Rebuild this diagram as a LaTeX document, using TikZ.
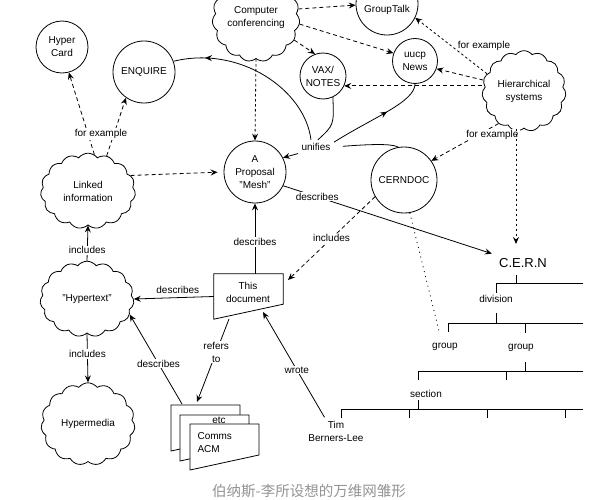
\documentclass[tikz,border=0pt]{standalone}
\usepackage{fontspec}
\setmainfont{Liberation Sans}
\newfontfamily\cjk{Noto Sans CJK SC}
\usetikzlibrary{shapes.symbols,arrows.meta,decorations.markings,calc}
\tikzset{
  lw/.style={line width=0.8pt},
  circ/.style={circle, draw, lw, inner sep=0pt, align=center},
  cloudn/.style={cloud, draw, cloud puffs=15, cloud puff arc=105, lw, inner sep=0pt, align=center},
  tip/.tip={Stealth[length=7pt,width=6pt,inset=2.5pt]},
  arr/.style={lw, -tip},
  darr/.style={arr, dash pattern=on 4pt off 3pt},
  sdarr/.style={arr, dash pattern=on 2.5pt off 2.5pt},
  dotline/.style={lw, dash pattern=on 1pt off 4pt},
  lab/.style={fill=white, inner sep=1pt, align=center},
  marr/.style={lw, postaction={decorate}, decoration={markings, mark=at position #1 with {\arrow{tip}}}},
  tree/.style={lw},
}
\begin{document}
\begin{tikzpicture}[x=1pt,y=-1pt, every node/.style={font=\fontsize{10}{13}\selectfont}]
\useasboundingbox (0,0) rectangle (600,500);
\fill[white] (0,0) rectangle (600,500);
\clip (0,0) rectangle (600,500);

% nodes
\node[circ, minimum size=52pt] (hcard) at (62,47) {Hyper\\Card};
\node[circ, minimum size=62pt] (enq) at (144,72) {ENQUIRE};
\node[cloudn, minimum width=80pt, minimum height=44pt] (cc) at (256,18) {Computer\\conferencing};
\node[circ, minimum size=62pt] (gt) at (387,4) {IBM\\GroupTalk};
\node[circ, minimum size=46pt] (vax) at (323,76) {VAX/\\NOTES};
\node[circ, minimum size=45pt] (uucp) at (415,61) {uucp\\News};
\node[cloudn, minimum width=84pt, minimum height=60pt] (hier) at (524,91) {Hierarchical\\systems};
\node[circ, minimum size=62pt] (mesh) at (255,172) {A\\Proposal\\"Mesh"};
\node[circ, minimum size=66pt] (cdoc) at (404,180) {CERNDOC};
\node[cloudn, minimum width=95pt, minimum height=66pt] (linked) at (88,191) {Linked\\information};
\node[cloudn, minimum width=94pt, minimum height=72pt] (htext) at (87,299) {"Hypertext"};
\node[cloudn, minimum width=94pt, minimum height=72pt] (hmedia) at (88,424) {Hypermedia};
\node[font=\fontsize{13}{15}\selectfont] (cern) at (523,263) {C.E.R.N};
\node[align=center] (tim) at (336,431) {Tim\\Berners-Lee};
\node (unif) at (316,147) {unifies};

% this document
\node[minimum width=69pt, minimum height=45pt, inner sep=0pt] (doc) at (248.5,296.5) {};
\draw[lw, fill=white] (doc.north west) -- (doc.north east) -- ($(doc.south east)+(0,-15)$) -- (doc.south west) -- cycle;
\node[align=center] (doctxt) at (248,292) {This\\document};

% stack of papers
\draw[lw, fill=white] (171,405) -- (240,405) -- (240,436) -- (171,451) -- cycle;
\draw[lw, fill=white] (180,415) -- (249,415) -- (249,446) -- (180,461) -- cycle;
\node (etc) at (219,420) {etc};
\draw[lw, fill=white] (190,424) -- (259,424) -- (259,455) -- (190,470) -- cycle;
\node[align=left, anchor=west] (acm) at (194,443) {Comms\\ACM};

% connector end coordinates
\coordinate (docref) at (229,319);
\coordinate (docwrote) at (263,312);
\coordinate (docinc) at (288,280);
\coordinate (stkref) at (197,402);
\coordinate (stkdesc) at (182,404);
\coordinate (grp) at (439,331);
\coordinate (cerntop) at (516,244);

% tree
\draw[tree] (516,275) -- (516,283) (496,293) -- (496,283) -- (583,283);
\draw[tree] (496,313) -- (496,323) (448,332) -- (448,323) -- (583,323) (525,323) -- (525,333);
\draw[tree] (525,362) -- (525,371) (418,380) -- (418,371) -- (583,371) (506,371) -- (506,380);
\draw[tree] (418,400) -- (418,409) (341,418) -- (341,409) -- (583,409) (409,409) -- (409,418) (487,409) -- (487,418) (565,409) -- (565,418);
\node (div) at (496,299) {division};
\node (g1) at (445,347) {group};
\node (g2) at (521,348) {group};
\node (sec) at (426,394) {section};

% computer conferencing
\draw[darr] (cc.12) -- (gt.182);
\draw[darr] (cc.-8) -- (uucp.160);
\draw[darr] (cc.-30) -- (vax.110);
\draw[sdarr] (cc.south) -- (mesh.north);

% hierarchical systems
\draw[sdarr] (hier.155) -- (gt.-26) node[pos=0.5, right=3pt] {for example};
\draw[darr] (hier.165) -- (uucp.-20);
\draw[darr] (hier.west |- vax.-25) -- (vax.-25);
\draw[darr] (hier.-128) -- (cdoc.35) node[lab, pos=0.3, xshift=14pt] {for example};
\draw[sdarr] (hier.south -| cerntop) -- (cerntop);

% linked information
\draw[darr, shorten >=6pt] (linked.20) -- (mesh.west);
\draw[darr] (linked.62) -- (enq.-125);
\draw[darr] (linked.80) -- (hcard.-75) node[lab, pos=0.25, xshift=13pt] {for example};

% unifies
\draw[arr] (unif.200) -- (mesh.27);
\draw[marr=0.82] (unif.125) .. controls (305,90) and (240,45) .. (enq.20);
\draw[lw] (vax.-65) .. controls (334,125) .. (unif.75);
\draw[marr=0.6] (unif.15) .. controls (372,118) and (415,102) .. (uucp.-90);
\draw[lw, shorten <=9pt] (unif.east) .. controls (385,143) and (394,145) .. (cdoc.100);

% describes / includes
\draw[arr, shorten >=4pt] (mesh.-26) -- (cern.north west) node[lab, pos=0.16] {describes};
\draw[darr] (cdoc.210) -- (docinc) node[lab, pos=0.5] {includes};
\draw[dotline] (cdoc.-80) -- (grp);
\draw[arr] (doc.north -| mesh.south) -- (mesh.south) node[lab, pos=0.45] {describes};
\draw[arr] (doc.west) -- (htext.east) node[pos=0.45, above=0pt] {describes};
\draw[arr] (docref) -- (stkref) node[lab, pos=0.4] {refers\\to};
\draw[arr] (stkdesc) -- (htext.-20) node[lab, pos=0.45] {describes};
\draw[arr] (tim.130) -- (docwrote) node[lab, pos=0.45] {wrote};
\draw[arr] (htext.north) -- (linked.south) node[lab, pos=0.3] {includes};
\draw[arr] (htext.south) -- (hmedia.north) node[lab, pos=0.42] {includes};

% caption
\node[text=black!42, font=\cjk\fontsize{14.5}{16}\selectfont] (cap) at (309,491) {伯纳斯-李所设想的万维网雏形};
\end{tikzpicture}
\end{document}
